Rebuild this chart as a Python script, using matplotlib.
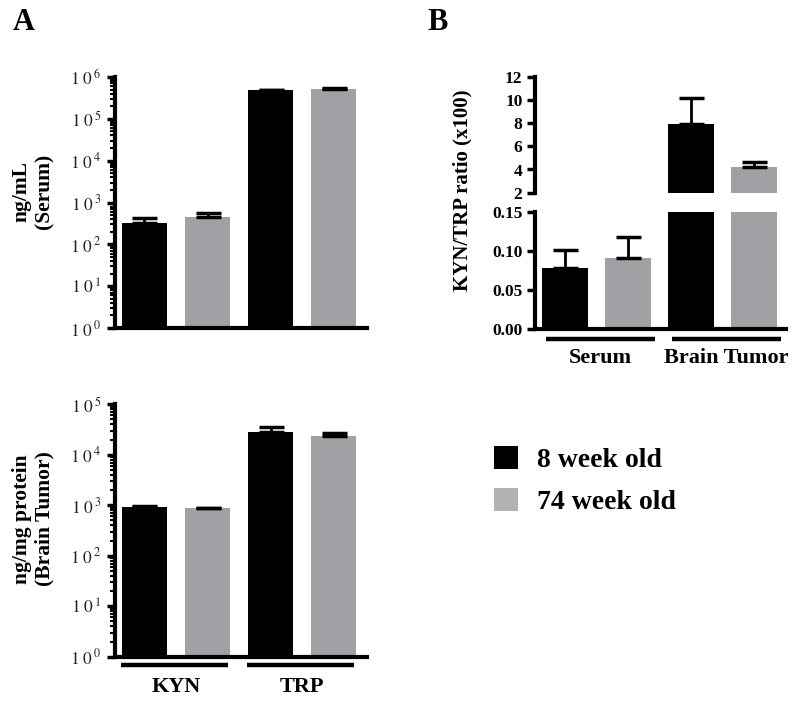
import matplotlib
matplotlib.use("Agg")
import matplotlib.pyplot as plt
import numpy as np
from matplotlib.patches import Patch
from matplotlib.ticker import LogLocator, FixedLocator, FuncFormatter, NullFormatter
import matplotlib.transforms as mtransforms

plt.rcParams['font.family'] = ['Liberation Serif', 'DejaVu Serif']
plt.rcParams['mathtext.fontset'] = 'stix'

# ---------------- data ----------------
groups_A = ["KYN", "TRP"]
series = ["8 week old", "74 week old"]
# Serum (ng/mL): [KYN, TRP]
serum_8 = [330, 490000]
serum_8_err = [90, 8000]
serum_74 = [460, 530000]
serum_74_err = [110, 9000]
# Brain tumor (ng/mg protein): [KYN, TRP]
tumor_8 = [940, 28500]
tumor_8_err = [15, 7500]
tumor_74 = [880, 23800]
tumor_74_err = [20, 2700]

groups_B = ["Serum", "Brain Tumor"]
ratio_8 = [0.078, 7.9]
ratio_8_err = [0.024, 2.25]
ratio_74 = [0.092, 4.2]
ratio_74_err = [0.026, 0.42]

c_black = "#000000"
c_gray = "#a1a1a5"
c_gray_leg = "#b3b3b3"

W, H = 800, 701
fig = plt.figure(figsize=(W / 100, H / 100), dpi=100)


def px_axes(x0, y0, x1, y1):
    return fig.add_axes([x0 / W, 1 - y1 / H, (x1 - x0) / W, (y1 - y0) / H])


def bars(ax, v8, e8, v74, e74, width, cap, bottom=0):
    n = len(v8)
    x8 = np.arange(n) * 2
    x74 = x8 + 1
    for xs, v, e, c in [(x8, v8, e8, c_black), (x74, v74, e74, c_gray)]:
        ax.bar(xs, np.array(v) - bottom, bottom=bottom, width=width, color=c, zorder=2)
        ax.errorbar(xs, v, yerr=[np.zeros(n), e], fmt='none', ecolor='black',
                    elinewidth=2, capsize=cap, capthick=2.5, zorder=3)


def style_spines(ax, lw=3):
    for s in ['top', 'right']:
        ax.spines[s].set_visible(False)
    for s in ['left', 'bottom']:
        ax.spines[s].set_linewidth(lw)


def log_fmt(v, pos):
    return r'$1\,\,0^{\,%d}$' % int(round(np.log10(v)))


def setup_log(ax, top):
    ax.set_yscale('log')
    ax.set_ylim(1, 10 ** top)
    ax.yaxis.set_major_locator(LogLocator(base=10, numticks=20))
    ax.yaxis.set_minor_locator(LogLocator(base=10, subs=np.arange(2, 10), numticks=20))
    ax.yaxis.set_major_formatter(FuncFormatter(log_fmt))
    ax.yaxis.set_minor_formatter(NullFormatter())
    ax.tick_params(axis='y', which='major', length=6, width=2.5, labelsize=12.5, pad=4,
                   labelcolor='#222222')
    ax.tick_params(axis='y', which='minor', length=3.5, width=1.5)
    ax.set_xticks([])
    ax.set_xlim(-0.468, 3.53)


def group_lines(ax, names, y_line, y_text, x_lo, x_hi, text_dx):
    tr = mtransforms.blended_transform_factory(ax.transData, ax.transAxes)
    for i, name in enumerate(names):
        g = 2 * i
        ax.plot([g + x_lo, g + x_hi], [y_line, y_line], color='black', lw=3.2,
                transform=tr, clip_on=False, solid_capstyle='butt')
        ax.text(g + 0.5 + text_dx, y_text, name, transform=tr, ha='center', va='center',
                fontsize=16, fontweight='bold')


# ---------------- Panel A top (serum) ----------------
axA1 = px_axes(115, 77, 367, 328)
bars(axA1, serum_8, serum_8_err, serum_74, serum_74_err, 0.72, 9)
setup_log(axA1, 6)
style_spines(axA1)

# ---------------- Panel A bottom (brain tumor) ----------------
axA2 = px_axes(115, 404.3, 367, 656.7)
bars(axA2, tumor_8, tumor_8_err, tumor_74, tumor_74_err, 0.72, 9)
setup_log(axA2, 5)
style_spines(axA2)
group_lines(axA2, groups_A, -0.033, -0.12, -0.38, 1.33, 0.0)

fig.text(33 / W, 1 - 191 / H, "ng/mL\n(Serum)", rotation=90, ha='center', va='center',
         fontsize=15.5, fontweight='bold', multialignment='center', linespacing=1.15)
fig.text(33 / W, 1 - 519 / H, "ng/mg protein\n(Brain Tumor)", rotation=90, ha='center',
         va='center', fontsize=15.5, fontweight='bold', multialignment='center', linespacing=1.15)

# ---------------- Panel B (broken axis) ----------------
axBu = px_axes(535, 76.7, 786, 192.7)
axBl = px_axes(535, 212.3, 786, 329.3)
for ax in (axBu, axBl):
    bars(ax, ratio_8, ratio_8_err, ratio_74, ratio_74_err, 0.72, 9)
    ax.set_xlim(-0.477, 3.51)
    ax.set_xticks([])
    for s in ['top', 'right']:
        ax.spines[s].set_visible(False)
    ax.spines['left'].set_linewidth(3)
    ax.spines['bottom'].set_linewidth(3)
    ax.tick_params(axis='y', length=6, width=2.5, labelsize=12.5, pad=3)

axBu.set_ylim(2, 12)
axBu.yaxis.set_major_locator(FixedLocator([2, 4, 6, 8, 10, 12]))
axBu.spines['bottom'].set_visible(False)
axBl.set_ylim(0, 0.15)
axBl.yaxis.set_major_locator(FixedLocator([0.0, 0.05, 0.10, 0.15]))
axBl.yaxis.set_major_formatter(FuncFormatter(lambda v, p: "%.2f" % v))
for ax in (axBu, axBl):
    for t in ax.get_yticklabels():
        t.set_fontweight('bold')
group_lines(axBl, groups_B, -0.083, -0.245, -0.3, 1.43, 0.06)

fig.text(462 / W, 1 - 190.5 / H, "KYN/TRP ratio (x100)", rotation=90, ha='center',
         va='center', fontsize=15, fontweight='bold')

# ---------------- panel letters ----------------
fig.text(24 / W, 1 - 22 / H, "A", ha='center', va='center', fontsize=22, fontweight='bold')
fig.text(438 / W, 1 - 22 / H, "B", ha='center', va='center', fontsize=22, fontweight='bold')

# ---------------- legend ----------------
handles = [Patch(facecolor=c_black, edgecolor='none'), Patch(facecolor=c_gray_leg, edgecolor='none')]
fig.legend(handles, series, loc='upper left', bbox_to_anchor=(494 / W, 1 - 446.5 / H),
           frameon=False, borderpad=0, borderaxespad=0, handlelength=0.85, handleheight=0.85,
           handletextpad=0.7, labelspacing=0.55, prop={'weight': 'bold', 'size': 20})

fig.savefig("out.png", dpi=100)
